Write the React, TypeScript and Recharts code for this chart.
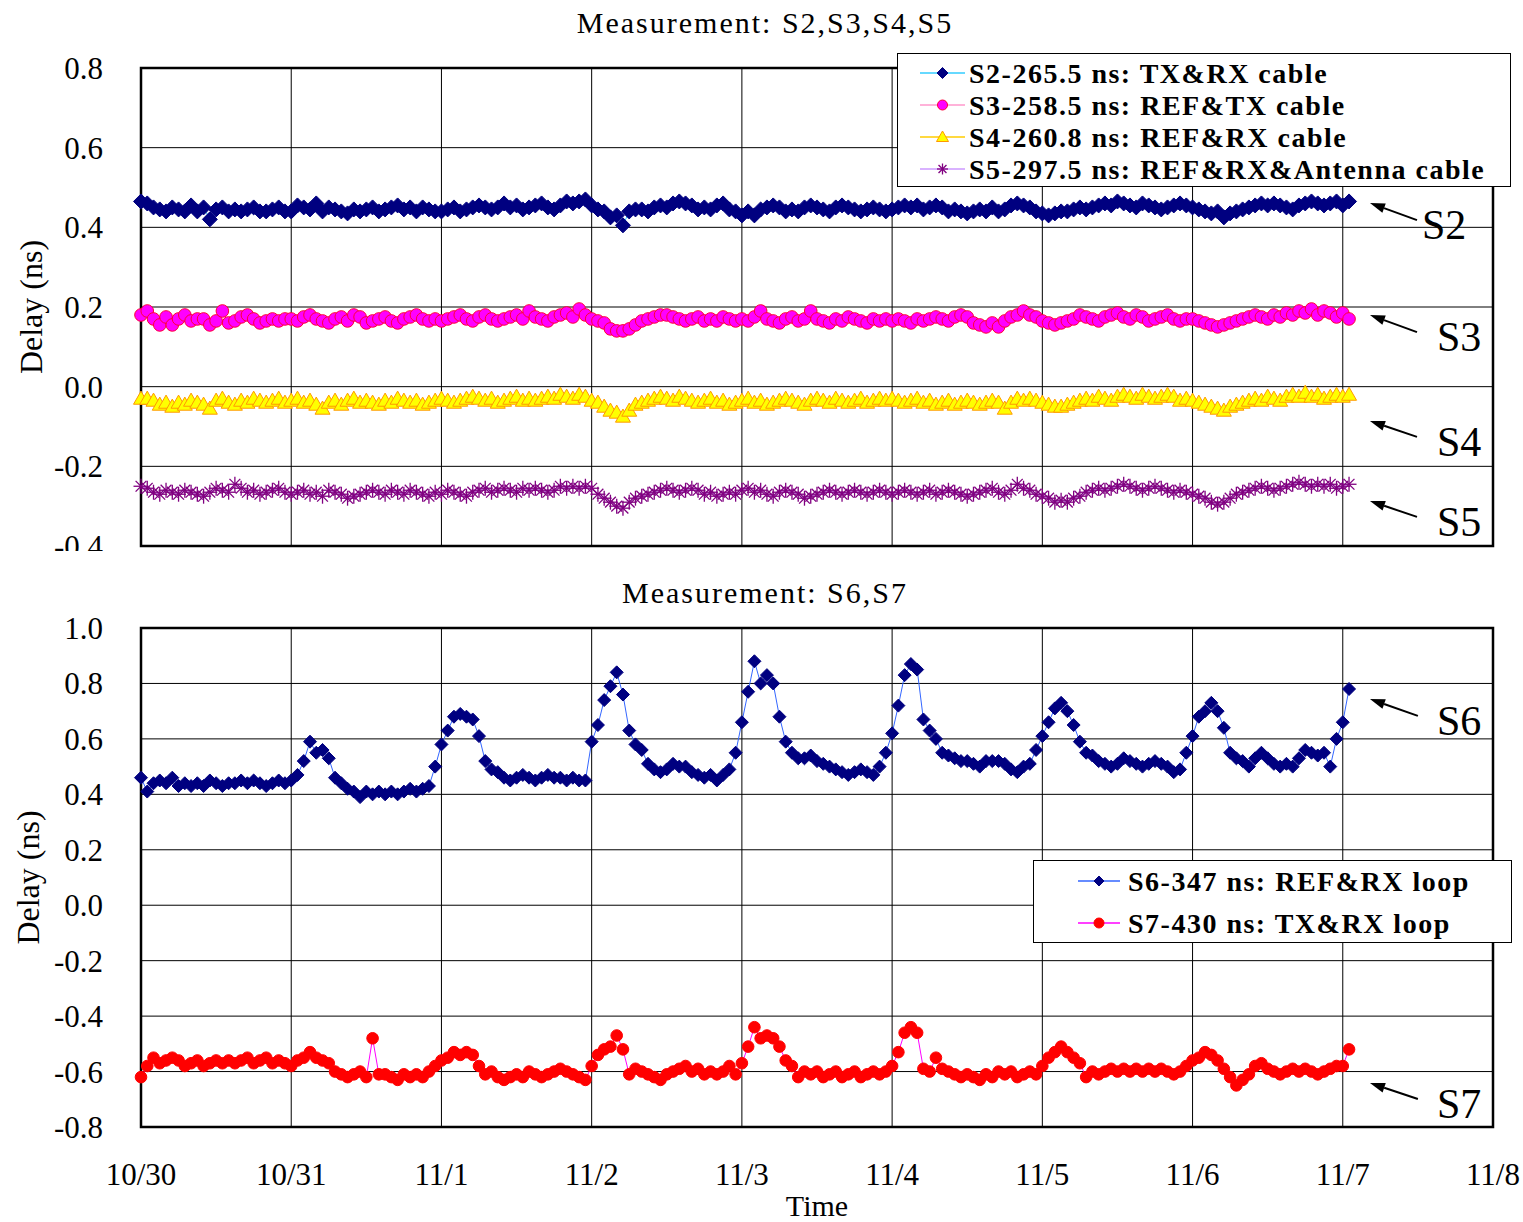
import React from 'react';
import { LineChart, Line, XAxis, YAxis, CartesianGrid, ReferenceArea, ReferenceLine, Legend } from 'recharts';

const FONT = '"Liberation Serif", "Times New Roman", "DejaVu Serif", serif';

// ---------- axis labels / ticks ----------
const DATE_LABELS = ['10/30', '10/31', '11/1', '11/2', '11/3', '11/4', '11/5', '11/6', '11/7', '11/8'];
const DAY_TICKS = [0, 1, 2, 3, 4, 5, 6, 7, 8, 9];
const TOP_TICKS = [-0.4, -0.2, 0, 0.2, 0.4, 0.6, 0.8];
const BOTTOM_TICKS = [-0.8, -0.6, -0.4, -0.2, 0, 0.2, 0.4, 0.6, 0.8, 1.0];
const SAMPLES_PER_DAY = 24; // hourly samples

// ---------- series values (ns), hourly from 10/30 00:00 ----------
const s2 = [
  0.465,0.46,0.45,0.445,0.44,0.45,0.445,0.44,0.455,0.44,0.45,0.42,0.445,0.45,0.44,0.445,0.44,0.445,0.45,0.44,0.44,0.445,0.45,0.44,
  0.44,0.455,0.45,0.445,0.46,0.44,0.45,0.445,0.44,0.435,0.445,0.44,0.445,0.45,0.44,0.445,0.45,0.455,0.445,0.45,0.44,0.45,0.445,0.44,
  0.44,0.445,0.45,0.44,0.445,0.45,0.455,0.45,0.445,0.45,0.46,0.45,0.455,0.445,0.45,0.455,0.46,0.45,0.445,0.455,0.465,0.46,0.465,0.47,
  0.455,0.445,0.44,0.425,0.43,0.405,0.44,0.445,0.445,0.44,0.45,0.455,0.45,0.46,0.465,0.46,0.455,0.445,0.45,0.445,0.455,0.46,0.445,0.44,
  0.43,0.44,0.43,0.445,0.45,0.455,0.45,0.44,0.445,0.44,0.45,0.455,0.45,0.445,0.44,0.45,0.455,0.45,0.445,0.44,0.445,0.45,0.445,0.44,
  0.445,0.45,0.455,0.45,0.455,0.445,0.45,0.455,0.45,0.44,0.445,0.44,0.435,0.44,0.445,0.44,0.45,0.44,0.445,0.455,0.46,0.455,0.45,0.44,
  0.435,0.43,0.435,0.44,0.44,0.445,0.45,0.445,0.45,0.455,0.46,0.455,0.465,0.46,0.455,0.45,0.46,0.455,0.45,0.445,0.45,0.455,0.46,0.455,
  0.45,0.445,0.44,0.435,0.44,0.425,0.435,0.44,0.445,0.45,0.455,0.46,0.455,0.46,0.455,0.45,0.445,0.455,0.46,0.465,0.46,0.455,0.46,0.465,
  0.455,0.465,
];
const s3 = [
  0.18,0.19,0.17,0.155,0.175,0.155,0.17,0.18,0.165,0.17,0.17,0.155,0.165,0.19,0.16,0.165,0.175,0.18,0.17,0.16,0.165,0.17,0.165,0.17,
  0.17,0.165,0.175,0.18,0.17,0.165,0.16,0.17,0.175,0.165,0.18,0.175,0.16,0.165,0.17,0.175,0.165,0.16,0.17,0.175,0.18,0.17,0.165,0.17,
  0.165,0.17,0.175,0.18,0.17,0.165,0.175,0.18,0.17,0.165,0.17,0.175,0.18,0.17,0.19,0.175,0.17,0.165,0.175,0.18,0.185,0.175,0.195,0.18,
  0.17,0.165,0.16,0.145,0.14,0.14,0.145,0.155,0.165,0.17,0.175,0.18,0.18,0.175,0.17,0.165,0.17,0.175,0.165,0.17,0.165,0.175,0.17,0.165,
  0.17,0.165,0.175,0.19,0.17,0.165,0.16,0.17,0.175,0.165,0.17,0.19,0.17,0.165,0.16,0.17,0.165,0.175,0.17,0.165,0.16,0.17,0.165,0.17,
  0.165,0.17,0.165,0.16,0.17,0.165,0.17,0.175,0.17,0.165,0.175,0.18,0.175,0.16,0.155,0.15,0.16,0.15,0.165,0.175,0.18,0.19,0.18,0.175,
  0.165,0.16,0.155,0.16,0.165,0.17,0.18,0.175,0.17,0.165,0.175,0.18,0.185,0.175,0.17,0.18,0.175,0.165,0.17,0.175,0.18,0.17,0.165,0.17,
  0.17,0.165,0.16,0.155,0.15,0.155,0.16,0.165,0.17,0.175,0.18,0.175,0.17,0.18,0.175,0.185,0.18,0.19,0.185,0.195,0.18,0.19,0.185,0.175,
  0.185,0.17,
];
const s4 = [
  -0.03,-0.03,-0.035,-0.045,-0.04,-0.05,-0.04,-0.045,-0.035,-0.04,-0.045,-0.055,-0.035,-0.03,-0.04,-0.045,-0.035,-0.04,-0.03,-0.035,-0.04,-0.035,-0.03,-0.04,
  -0.035,-0.03,-0.04,-0.035,-0.045,-0.055,-0.04,-0.035,-0.045,-0.035,-0.03,-0.04,-0.035,-0.04,-0.045,-0.035,-0.04,-0.03,-0.035,-0.04,-0.035,-0.045,-0.04,-0.035,
  -0.03,-0.035,-0.04,-0.035,-0.03,-0.025,-0.03,-0.035,-0.03,-0.04,-0.035,-0.03,-0.025,-0.035,-0.03,-0.035,-0.03,-0.025,-0.03,-0.02,-0.025,-0.03,-0.02,-0.025,
  -0.035,-0.04,-0.05,-0.06,-0.065,-0.075,-0.06,-0.045,-0.04,-0.035,-0.03,-0.025,-0.03,-0.035,-0.025,-0.03,-0.035,-0.04,-0.035,-0.03,-0.04,-0.035,-0.045,-0.04,
  -0.035,-0.03,-0.04,-0.035,-0.045,-0.04,-0.035,-0.03,-0.035,-0.04,-0.045,-0.035,-0.03,-0.035,-0.04,-0.03,-0.035,-0.04,-0.035,-0.03,-0.04,-0.035,-0.03,-0.035,
  -0.03,-0.035,-0.04,-0.035,-0.03,-0.04,-0.035,-0.045,-0.04,-0.035,-0.045,-0.04,-0.035,-0.04,-0.045,-0.04,-0.035,-0.04,-0.055,-0.04,-0.03,-0.035,-0.03,-0.035,
  -0.04,-0.045,-0.05,-0.05,-0.045,-0.04,-0.035,-0.03,-0.035,-0.025,-0.03,-0.035,-0.025,-0.02,-0.025,-0.03,-0.02,-0.025,-0.03,-0.025,-0.02,-0.025,-0.035,-0.03,
  -0.035,-0.04,-0.045,-0.05,-0.055,-0.06,-0.05,-0.045,-0.04,-0.035,-0.03,-0.035,-0.025,-0.03,-0.035,-0.025,-0.02,-0.025,-0.015,-0.025,-0.02,-0.03,-0.025,-0.02,
  -0.025,-0.02,
];
const s5 = [
  -0.25,-0.255,-0.265,-0.27,-0.26,-0.265,-0.27,-0.26,-0.265,-0.27,-0.275,-0.265,-0.255,-0.26,-0.265,-0.245,-0.255,-0.265,-0.26,-0.27,-0.265,-0.26,-0.255,-0.265,
  -0.27,-0.265,-0.26,-0.27,-0.265,-0.275,-0.26,-0.265,-0.27,-0.28,-0.275,-0.27,-0.265,-0.26,-0.265,-0.27,-0.26,-0.265,-0.27,-0.26,-0.265,-0.27,-0.275,-0.265,
  -0.27,-0.26,-0.265,-0.27,-0.275,-0.265,-0.26,-0.255,-0.265,-0.26,-0.255,-0.26,-0.265,-0.255,-0.26,-0.255,-0.26,-0.265,-0.26,-0.25,-0.255,-0.25,-0.255,-0.25,
  -0.255,-0.27,-0.28,-0.29,-0.3,-0.305,-0.29,-0.28,-0.275,-0.27,-0.265,-0.26,-0.255,-0.26,-0.265,-0.26,-0.255,-0.26,-0.27,-0.265,-0.275,-0.27,-0.265,-0.27,
  -0.26,-0.255,-0.265,-0.26,-0.27,-0.275,-0.265,-0.26,-0.265,-0.27,-0.28,-0.275,-0.27,-0.265,-0.26,-0.265,-0.27,-0.265,-0.26,-0.265,-0.27,-0.265,-0.26,-0.265,
  -0.27,-0.265,-0.26,-0.265,-0.27,-0.265,-0.26,-0.27,-0.265,-0.26,-0.265,-0.27,-0.275,-0.27,-0.265,-0.26,-0.255,-0.265,-0.27,-0.26,-0.245,-0.255,-0.26,-0.27,
  -0.275,-0.28,-0.29,-0.285,-0.29,-0.28,-0.275,-0.265,-0.26,-0.255,-0.26,-0.255,-0.25,-0.245,-0.25,-0.255,-0.26,-0.255,-0.25,-0.255,-0.26,-0.265,-0.26,-0.265,
  -0.27,-0.275,-0.28,-0.29,-0.295,-0.29,-0.28,-0.27,-0.265,-0.26,-0.255,-0.25,-0.255,-0.26,-0.255,-0.25,-0.245,-0.24,-0.245,-0.25,-0.245,-0.25,-0.245,-0.255,
  -0.25,-0.245,
];
const s6 = [
  0.46,0.41,0.44,0.45,0.44,0.46,0.43,0.44,0.43,0.44,0.43,0.45,0.44,0.43,0.44,0.44,0.45,0.44,0.45,0.44,0.43,0.44,0.45,0.44,
  0.45,0.47,0.52,0.59,0.55,0.56,0.53,0.46,0.44,0.42,0.41,0.39,0.41,0.40,0.41,0.40,0.41,0.40,0.41,0.42,0.41,0.42,0.43,0.50,
  0.58,0.63,0.68,0.69,0.68,0.67,0.61,0.52,0.49,0.48,0.46,0.45,0.46,0.47,0.46,0.45,0.46,0.47,0.46,0.46,0.45,0.46,0.45,0.45,
  0.59,0.65,0.74,0.79,0.84,0.76,0.63,0.58,0.56,0.51,0.49,0.48,0.49,0.51,0.50,0.50,0.48,0.47,0.46,0.47,0.45,0.47,0.49,0.55,
  0.66,0.77,0.88,0.80,0.83,0.80,0.68,0.59,0.55,0.53,0.53,0.54,0.52,0.51,0.50,0.49,0.48,0.47,0.48,0.49,0.48,0.47,0.50,0.55,
  0.62,0.72,0.83,0.87,0.85,0.67,0.63,0.60,0.55,0.54,0.53,0.52,0.52,0.51,0.50,0.52,0.52,0.52,0.51,0.49,0.48,0.50,0.51,0.56,
  0.61,0.66,0.71,0.73,0.70,0.65,0.59,0.55,0.54,0.52,0.51,0.50,0.51,0.53,0.52,0.51,0.50,0.51,0.52,0.51,0.50,0.48,0.49,0.55,
  0.61,0.68,0.70,0.73,0.70,0.64,0.55,0.53,0.52,0.50,0.53,0.55,0.53,0.51,0.50,0.51,0.50,0.53,0.56,0.55,0.54,0.55,0.50,0.60,
  0.66,0.78,
];
const s7 = [
  -0.62,-0.58,-0.55,-0.57,-0.56,-0.55,-0.56,-0.58,-0.57,-0.56,-0.58,-0.57,-0.56,-0.57,-0.56,-0.57,-0.56,-0.55,-0.57,-0.56,-0.55,-0.57,-0.56,-0.57,
  -0.58,-0.56,-0.55,-0.53,-0.55,-0.56,-0.57,-0.60,-0.61,-0.62,-0.61,-0.60,-0.62,-0.48,-0.61,-0.61,-0.62,-0.63,-0.61,-0.62,-0.61,-0.62,-0.60,-0.58,
  -0.56,-0.55,-0.53,-0.54,-0.53,-0.54,-0.58,-0.61,-0.60,-0.62,-0.63,-0.62,-0.61,-0.62,-0.60,-0.61,-0.62,-0.61,-0.60,-0.59,-0.60,-0.61,-0.62,-0.63,
  -0.58,-0.54,-0.52,-0.51,-0.47,-0.52,-0.61,-0.59,-0.60,-0.61,-0.62,-0.63,-0.61,-0.60,-0.59,-0.58,-0.60,-0.59,-0.61,-0.60,-0.61,-0.60,-0.58,-0.61,
  -0.57,-0.51,-0.44,-0.48,-0.47,-0.48,-0.51,-0.56,-0.58,-0.62,-0.60,-0.61,-0.60,-0.62,-0.61,-0.60,-0.62,-0.61,-0.60,-0.62,-0.61,-0.60,-0.61,-0.60,
  -0.58,-0.53,-0.46,-0.44,-0.46,-0.59,-0.60,-0.55,-0.59,-0.60,-0.61,-0.62,-0.61,-0.62,-0.63,-0.61,-0.62,-0.60,-0.61,-0.60,-0.62,-0.61,-0.60,-0.61,
  -0.58,-0.55,-0.53,-0.51,-0.53,-0.55,-0.57,-0.62,-0.60,-0.61,-0.60,-0.59,-0.60,-0.59,-0.60,-0.59,-0.60,-0.59,-0.60,-0.59,-0.60,-0.61,-0.60,-0.58,
  -0.56,-0.55,-0.53,-0.54,-0.56,-0.59,-0.62,-0.65,-0.63,-0.61,-0.58,-0.57,-0.59,-0.60,-0.61,-0.60,-0.59,-0.60,-0.59,-0.60,-0.61,-0.60,-0.59,-0.58,
  -0.58,-0.52,
];

// ---------- series styling ----------
type MarkerKind = 'diamond' | 'circle' | 'triangle' | 'star';
interface SeriesCfg { key: string; name: string; line: string; marker: MarkerKind; fill: string; stroke: string; size: number; legendSize: number; }

const TOP_SERIES: SeriesCfg[] = [
  { key: 's2', name: 'S2-265.5 ns: TX&RX cable', line: '#33CCFF', marker: 'diamond', fill: '#000080', stroke: '#000080', size: 7.5, legendSize: 5.5 },
  { key: 's3', name: 'S3-258.5 ns: REF&TX cable', line: '#FF99CC', marker: 'circle', fill: '#FF00FF', stroke: '#FF0033', size: 6.3, legendSize: 5 },
  { key: 's4', name: 'S4-260.8 ns: REF&RX cable', line: '#FFCC00', marker: 'triangle', fill: '#FFFF00', stroke: '#FF9900', size: 7.5, legendSize: 6 },
  { key: 's5', name: 'S5-297.5 ns: REF&RX&Antenna cable', line: '#CC99FF', marker: 'star', fill: 'none', stroke: '#800080', size: 7.5, legendSize: 5.5 },
];
const BOTTOM_SERIES: SeriesCfg[] = [
  { key: 's6', name: 'S6-347 ns: REF&RX loop', line: '#3366FF', marker: 'diamond', fill: '#000080', stroke: '#000080', size: 6.5, legendSize: 5 },
  { key: 's7', name: 'S7-430 ns: TX&RX loop', line: '#FF00FF', marker: 'circle', fill: '#FF0000', stroke: '#FF0000', size: 5.8, legendSize: 5 },
];

// annotation arrows, in data units: tip (arrow head) and tail (label side)
const TOP_NOTES = [
  { text: 'S2', tip: [8.181, 0.461], tail: [8.494, 0.418], dx: 5 },
  { text: 'S3', tip: [8.181, 0.180], tail: [8.494, 0.137], dx: 20 },
  { text: 'S4', tip: [8.181, -0.086], tail: [8.494, -0.126], dx: 20 },
  { text: 'S5', tip: [8.181, -0.287], tail: [8.494, -0.327], dx: 20 },
];
const BOTTOM_NOTES = [
  { text: 'S6', tip: [8.181, 0.744], tail: [8.5, 0.683], dx: 19 },
  { text: 'S7', tip: [8.181, -0.641], tail: [8.5, -0.699], dx: 19 },
];

function buildRows(series: Record<string, number[]>) {
  const n = Math.max(...Object.values(series).map((a) => a.length));
  const rows: any[] = [];
  for (let i = 0; i < n; i++) {
    const row: any = { t: i / SAMPLES_PER_DAY };
    for (const k of Object.keys(series)) row[k] = series[k][i];
    rows.push(row);
  }
  return rows;
}
const topData = buildRows({ s2, s3, s4, s5 });
const bottomData = buildRows({ s6, s7 });

function Marker({ kind, cx, cy, fill, stroke, size }: { kind: MarkerKind; cx: number; cy: number; fill: string; stroke: string; size: number }) {
  const s = size;
  if (kind === 'diamond') {
    return <polygon points={`${cx},${cy - s} ${cx + s},${cy} ${cx},${cy + s} ${cx - s},${cy}`} fill={fill} stroke={stroke} strokeWidth={1} />;
  }
  if (kind === 'circle') {
    return <circle cx={cx} cy={cy} r={s} fill={fill} stroke={stroke} strokeWidth={1} />;
  }
  if (kind === 'triangle') {
    return <polygon points={`${cx},${cy - s} ${cx + s},${cy + s * 0.75} ${cx - s},${cy + s * 0.75}`} fill={fill} stroke={stroke} strokeWidth={1} />;
  }
  const d = s * 0.72;
  return (
    <g stroke={stroke} strokeWidth={1.3}>
      <line x1={cx - s} y1={cy} x2={cx + s} y2={cy} />
      <line x1={cx} y1={cy - s} x2={cx} y2={cy + s} />
      <line x1={cx - d} y1={cy - d} x2={cx + d} y2={cy + d} />
      <line x1={cx - d} y1={cy + d} x2={cx + d} y2={cy - d} />
    </g>
  );
}

const makeDot = (s: SeriesCfg) => (p: any) => {
  const k = `${s.key}-${p.index}`;
  if (p.cx == null || p.cy == null || p.value == null) return <g key={k} />;
  return (
    <g key={k}>
      <Marker kind={s.marker} cx={p.cx} cy={p.cy} fill={s.fill} stroke={s.stroke} size={s.size} />
    </g>
  );
};

const makeArrow = (note: { text: string; dx: number }) => (props: any) => {
  const { x1, y1, x2, y2 } = props;
  if ([x1, y1, x2, y2].some((v) => v == null || Number.isNaN(v))) return <g />;
  const ang = Math.atan2(y1 - y2, x1 - x2);
  const L = 15;
  const W = 5;
  const bx = x1 - L * Math.cos(ang);
  const by = y1 - L * Math.sin(ang);
  const px = -Math.sin(ang) * W;
  const py = Math.cos(ang) * W;
  return (
    <g>
      <line x1={x2} y1={y2} x2={bx} y2={by} stroke="#000" strokeWidth={2} />
      <polygon points={`${x1},${y1} ${bx + px},${by + py} ${bx - px},${by - py}`} fill="#000" />
      <text x={x2 + note.dx} y={y2 + 19} fontSize={42} fontFamily={FONT} fill="#000">{note.text}</text>
    </g>
  );
};

function LegendBox({ items, width, height, rowStart, rowGap, lineX1, lineX2, textX }: {
  items: SeriesCfg[]; width: number; height: number; rowStart: number; rowGap: number; lineX1: number; lineX2: number; textX: number;
}) {
  return (
    <div style={{ width, height, boxSizing: 'border-box', border: '1px solid #000', background: '#fff' }}>
      <svg width={width - 2} height={height - 2} style={{ display: 'block' }}>
        {items.map((s, i) => {
          const cy = rowStart + i * rowGap;
          const mx = (lineX1 + lineX2) / 2;
          return (
            <g key={s.key}>
              <line x1={lineX1} y1={cy} x2={lineX2} y2={cy} stroke={s.line} strokeWidth={1.5} />
              <Marker kind={s.marker} cx={mx} cy={cy} fill={s.fill} stroke={s.stroke} size={s.legendSize} />
              <text x={textX} y={cy + 10} fontSize={28} fontWeight="bold" letterSpacing={1.5} fontFamily={FONT} fill="#000">{s.name}</text>
            </g>
          );
        })}
      </svg>
    </div>
  );
}

const yLabel = (cxOffset: number) => (p: any) => {
  const vb = p.viewBox || {};
  const cx = (vb.x || 0) + cxOffset;
  const cy = (vb.y || 0) + (vb.height || 0) / 2;
  return (
    <text x={cx} y={cy} transform={`rotate(-90, ${cx}, ${cy})`} textAnchor="middle" dominantBaseline="central" fontSize={32} fontFamily={FONT} fill="#000">
      Delay (ns)
    </text>
  );
};

const tickStyle = { fontSize: 31, fill: '#000', fontFamily: FONT };
const fmt1 = (v: number) => v.toFixed(1);

const titleStyle: React.CSSProperties = {
  position: 'absolute', left: 365, width: 800, textAlign: 'center', fontFamily: FONT, fontSize: 30,
  lineHeight: '30px', letterSpacing: 2, color: '#000', whiteSpace: 'nowrap',
};

export default function App() {
  return (
    <div style={{ position: 'absolute', left: 0, top: 0, width: 1523, height: 1222, background: '#fff', overflow: 'hidden' }}>
      <div style={{ position: 'absolute', left: 0, top: 0 }}>
        <LineChart width={1523} height={551} data={topData} margin={{ top: 68, right: 30, bottom: 5, left: 0 }}>
          <CartesianGrid stroke="#000" strokeWidth={1} vertical={false} horizontalValues={TOP_TICKS} />
          <XAxis type="number" dataKey="t" domain={[0, 9]} ticks={DAY_TICKS} interval={0} tick={false} axisLine={false} tickLine={false} height={0} />
          <YAxis type="number" domain={[-0.4, 0.8]} ticks={TOP_TICKS} interval={0} tickFormatter={fmt1} width={141}
            axisLine={false} tickLine={false} tickSize={0} tickMargin={38} tick={tickStyle} label={{ content: yLabel(31) } as any} />
          {DAY_TICKS.map((d) => (
            <ReferenceLine key={`vg${d}`} x={d} stroke="#000" strokeWidth={1} />
          ))}
          <ReferenceArea x1={0} x2={9} y1={-0.4} y2={0.8} fill="none" stroke="#000" strokeWidth={2.5} />
          {TOP_SERIES.map((s) => (
            <Line key={s.key} type="linear" dataKey={s.key} name={s.name} stroke={s.line} strokeWidth={1}
              dot={makeDot(s)} activeDot={false} isAnimationActive={false} />
          ))}
          {TOP_NOTES.map((n) => (
            <ReferenceLine key={n.text} segment={[{ x: n.tip[0], y: n.tip[1] }, { x: n.tail[0], y: n.tail[1] }]}
              ifOverflow="visible" shape={makeArrow(n)} />
          ))}
          <Legend layout="vertical" align="center" verticalAlign="middle"
            wrapperStyle={{ left: 897, top: 53, width: 614, height: 134 }}
            content={() => <LegendBox items={TOP_SERIES} width={614} height={134} rowStart={19} rowGap={32} lineX1={22} lineX2={67} textX={71} />} />
        </LineChart>
      </div>
      <div style={{ position: 'absolute', left: 0, top: 555 }}>
        <LineChart width={1523} height={667} data={bottomData} margin={{ top: 73, right: 30, bottom: 0, left: 0 }}>
          <CartesianGrid stroke="#000" strokeWidth={1} verticalValues={DAY_TICKS} horizontalValues={BOTTOM_TICKS} />
          <XAxis type="number" dataKey="t" domain={[0, 9]} ticks={DAY_TICKS} interval={0} height={95}
            tickFormatter={(v: number) => DATE_LABELS[Math.round(v)]} axisLine={false} tickLine={false} tickSize={0} tickMargin={36}
            tick={tickStyle} label={{ value: 'Time', position: 'insideBottom', offset: 6, style: { fontSize: 30, fill: '#000', fontFamily: FONT } }} />
          <YAxis type="number" domain={[-0.8, 1.0]} ticks={BOTTOM_TICKS} interval={0} tickFormatter={fmt1} width={141}
            axisLine={false} tickLine={false} tickSize={0} tickMargin={38} tick={tickStyle} label={{ content: yLabel(28) } as any} />
          <ReferenceArea x1={0} x2={9} y1={-0.8} y2={1.0} fill="none" stroke="#000" strokeWidth={2.5} />
          {BOTTOM_SERIES.map((s) => (
            <Line key={s.key} type="linear" dataKey={s.key} name={s.name} stroke={s.line} strokeWidth={1}
              dot={makeDot(s)} activeDot={false} isAnimationActive={false} />
          ))}
          {BOTTOM_NOTES.map((n) => (
            <ReferenceLine key={n.text} segment={[{ x: n.tip[0], y: n.tip[1] }, { x: n.tail[0], y: n.tail[1] }]}
              ifOverflow="visible" shape={makeArrow(n)} />
          ))}
          <Legend layout="vertical" align="center" verticalAlign="middle"
            wrapperStyle={{ left: 1033, top: 305, width: 479, height: 83 }}
            content={() => <LegendBox items={BOTTOM_SERIES} width={479} height={83} rowStart={20} rowGap={42} lineX1={44} lineX2={86} textX={94} />} />
        </LineChart>
      </div>
      <div style={{ ...titleStyle, top: 8 }}>Measurement: S2,S3,S4,S5</div>
      <div style={{ ...titleStyle, top: 578 }}>Measurement: S6,S7</div>
    </div>
  );
}
